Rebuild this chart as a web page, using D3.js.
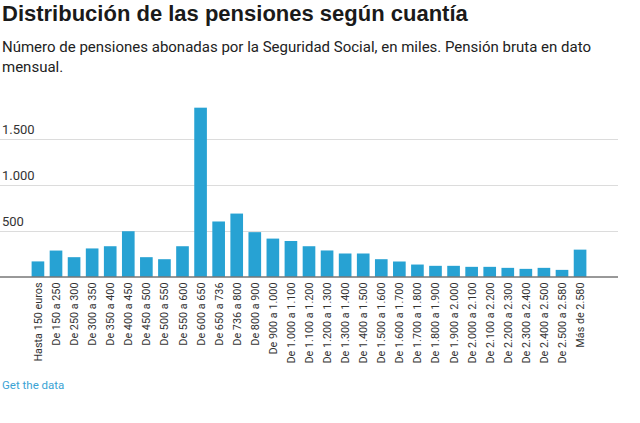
<!DOCTYPE html>
<html>
<head>
<meta charset="utf-8">
<script src="https://cdn.jsdelivr.net/npm/d3@7"></script>
<style>
  html, body { margin: 0; padding: 0; background: #fff; }
  body { width: 640px; height: 423px; overflow: hidden; font-family: Roboto, "Noto Sans", sans-serif; }
</style>
</head>
<body>
<svg id="chart" width="640" height="423"></svg>
<script>
const title = "Distribución de las pensiones según cuantía";
const subtitleLines = ["Número de pensiones abonadas por la Seguridad Social, en miles. Pensión bruta en dato", "mensual."];
const categories = [
  "Hasta 150 euros", "De 150 a 250", "De 250 a 300", "De 300 a 350", "De 350 a 400",
  "De 400 a 450", "De 450 a 500", "De 500 a 550", "De 550 a 600", "De 600 a 650",
  "De 650 a 736", "De 736 a 800", "De 800 a 900", "De 900 a 1.000", "De 1.000 a 1.100",
  "De 1.100 a 1.200", "De 1.200 a 1.300", "De 1.300 a 1.400", "De 1.400 a 1.500", "De 1.500 a 1.600",
  "De 1.600 a 1.700", "De 1.700 a 1.800", "De 1.800 a 1.900", "De 1.900 a 2.000", "De 2.000 a 2.100",
  "De 2.100 a 2.200", "De 2.200 a 2.300", "De 2.300 a 2.400", "De 2.400 a 2.500", "De 2.500 a 2.580",
  "Más de 2.580"
];
const values = [
  164, 282, 210, 305, 329,
  492, 210, 188, 329, 1835,
  598, 684, 482, 412, 386,
  329, 283, 250, 250, 188,
  163, 130, 116, 116, 105,
  105, 94, 83, 94, 72,
  292
];
const yTicks = [500, 1000, 1500];
const yTickLabels = ["500", "1.000", "1.500"];
const linkText = "Get the data";

const svg = d3.select("#chart");
const barColor = "#27a2d3";

svg.append("text").attr("x", 2).attr("y", 21)
  .attr("font-family", "'Liberation Sans', Arial, sans-serif").attr("font-weight", 700)
  .attr("font-size", "22px").attr("fill", "#1a1a1a").text(title);

svg.selectAll("text.sub").data(subtitleLines).join("text").attr("class", "sub")
  .attr("x", 2).attr("y", (d, i) => 52 + i * 19.5)
  .attr("font-family", "Roboto, sans-serif").attr("font-size", "15px").attr("fill", "#222")
  .text(d => d);

const y = d3.scaleLinear().domain([0, 1500]).range([276.5, 138.5]);
const x = d3.scaleBand().domain(categories).range([28.9, 589.1]).paddingInner(0.3).paddingOuter(0.15);

const plotLeft = 0, plotRight = 618;

// gridlines
const grid = svg.append("g");
grid.selectAll("line").data(yTicks).join("line")
  .attr("x1", plotLeft).attr("x2", plotRight)
  .attr("y1", d => Math.round(y(d)) + 0.5).attr("y2", d => Math.round(y(d)) + 0.5)
  .attr("stroke", "#dcdcdc").attr("stroke-width", 1);
grid.selectAll("text").data(yTicks).join("text")
  .attr("x", 2).attr("y", d => y(d) - 5)
  .attr("font-family", "Roboto, sans-serif").attr("font-size", "13px").attr("fill", "#333")
  .text((d, i) => yTickLabels[i]);

// bars
svg.append("g").selectAll("rect").data(values).join("rect")
  .attr("x", (d, i) => x(categories[i]))
  .attr("width", x.bandwidth())
  .attr("y", d => y(d))
  .attr("height", d => y(0) - y(d))
  .attr("fill", barColor);

// baseline
svg.append("line").attr("x1", plotLeft).attr("x2", plotRight)
  .attr("y1", y(0) + 0.5).attr("y2", y(0) + 0.5)
  .attr("stroke", "#333").attr("stroke-width", 1);

// x labels
svg.append("g").selectAll("text").data(categories).join("text")
  .attr("transform", d => `translate(${x(d) + x.bandwidth() / 2 + 4},${y(0) + 6}) rotate(-90)`)
  .attr("text-anchor", "end")
  .attr("font-family", "Roboto, sans-serif").attr("font-size", "10.8px").attr("fill", "#333")
  .text(d => d);

svg.append("text").attr("x", 2).attr("y", 389)
  .attr("font-family", "Roboto, sans-serif").attr("font-size", "11.5px").attr("fill", "#3aa3d4")
  .text(linkText);
</script>
</body>
</html>
